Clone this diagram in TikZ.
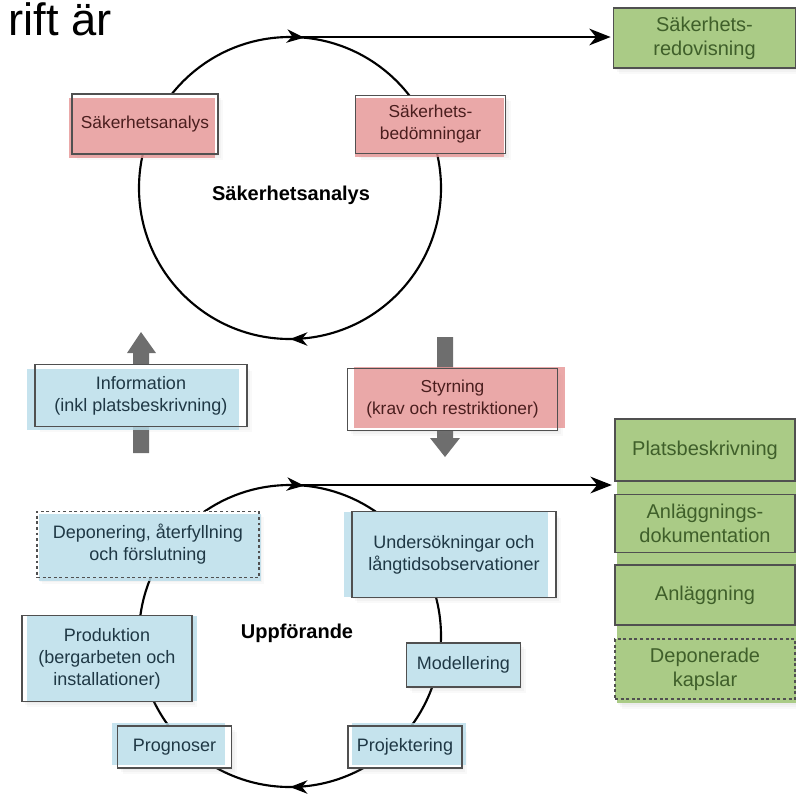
\documentclass[tikz,border=0pt]{standalone}
\usepackage{fontspec}
\setmainfont{Liberation Sans}
\usetikzlibrary{arrows.meta,decorations.markings,shadows}

\definecolor{redfill}{HTML}{E69696}
\definecolor{bluefill}{HTML}{B9DDEA}
\definecolor{greenfill}{HTML}{AACB86}
\definecolor{boxline}{HTML}{505050}
\definecolor{redtext}{HTML}{4A1E1E}
\definecolor{bluetext}{HTML}{1F3845}
\definecolor{greentext}{HTML}{3F5F2A}
\definecolor{blockgray}{HTML}{6E6E6E}

\tikzset{tint/.style n args={3}{preaction={fill=#1, fill opacity=0.82, transform canvas={shift={(#2,#3)}}}}}

\begin{document}
\begin{tikzpicture}[x=0.75pt,y=-0.75pt]
    \tikzstyle{softshadow}=[drop shadow={shadow xshift=1pt, shadow yshift=-1.5pt, opacity=0.06},
        drop shadow={shadow xshift=2.5pt, shadow yshift=-3pt, opacity=0.06},
        drop shadow={shadow xshift=4pt, shadow yshift=-4.5pt, opacity=0.05}]
    \tikzstyle{box}=[rectangle, align=center, inner sep=2pt, softshadow, preaction={fill=white}]
    \tikzstyle{outline}=[draw=boxline, line width=0.8pt]
    \tikzstyle{redbox}=[box, outline, text=redtext, font=\fontsize{13}{16.5}\selectfont]
    \tikzstyle{bluebox}=[box, outline, text=bluetext, font=\fontsize{13.5}{16.5}\selectfont]
    \tikzstyle{greenbox}=[rectangle, align=center, outline, fill=greenfill, text=greentext,
        font=\fontsize{15}{18}\selectfont, minimum width=135pt]
    \tikzstyle{dashedbox}=[dash pattern=on 2.2pt off 2pt]
    \tikzstyle{ring}=[line width=1.6pt, decoration={markings,
        mark=at position 0.25 with {\arrow{Stealth[length=13pt,width=10pt,inset=4pt]}},
        mark=at position 0.765 with {\arrow{Stealth[length=13pt,width=10pt,inset=4pt]}}}, postaction={decorate}]
    \tikzstyle{flow}=[line width=1.6pt, -{Stealth[length=16pt,width=12.5pt,inset=5pt]}, shorten >=2pt]
    \tikzstyle{blockarrow}=[fill=blockgray]
    \useasboundingbox (0,0) rectangle (796,794);

    \node[anchor=base west, font=\fontsize{34}{40}\selectfont] (frag) at (4,35) {rift är};

    % upper cycle
    \coordinate (ring1) at (290,188);
    \draw[ring] (ring1) circle[radius=151];
    \node[font=\bfseries\fontsize{15}{18}\selectfont] (lbl1) at (291,195) {Säkerhetsanalys};
    \node[redbox, tint={redfill}{-3}{4}, minimum width=109.5pt, minimum height=45pt] (sa) at (145,124) {Säkerhetsanalys};
    \node[redbox, tint={redfill}{-1}{3}, minimum width=112pt, minimum height=44pt] (sb) at (430.5,124.5) {Säkerhets-\\bedömningar};
    \node[greenbox, softshadow, minimum width=136pt, minimum height=45pt] (redov) at (704.5,38) {Säkerhets-\\redovisning};
    \coordinate (out1) at (300,37);
    \draw[flow] (out1) -- (out1 -| redov.west);

    % between the cycles
    \fill[blockarrow] (133,453) -- (133,353) -- (127,353) -- (141,332) -- (156,353) -- (149,353) -- (149,453) -- cycle;
    \fill[blockarrow] (437,337) -- (437,438) -- (430,438) -- (445,457) -- (460,438) -- (453,438) -- (453,337) -- cycle;
    \node[bluebox, tint={bluefill}{-8}{4}, minimum width=159pt, minimum height=46pt] (info) at (141,395.5) {Information\\(inkl platsbeskrivning)};
    \node[redbox, tint={redfill}{7}{-2}, minimum width=158pt, minimum height=46pt] (styr) at (452.5,399.5) {Styrning\\(krav och restriktioner)};

    % lower cycle
    \coordinate (ring2) at (290,636);
    \draw[ring] (ring2) circle[radius=151];
    \node[font=\bfseries\fontsize{15}{18}\selectfont] (lbl2) at (297,633) {Uppförande};
    \node[bluebox, dashedbox, tint={bluefill}{2}{3}, minimum width=166.5pt, minimum height=50pt] (depon) at (148,544.5) {Deponering, återfyllning\\och förslutning};
    \node[bluebox, tint={bluefill}{5}{0}, minimum width=127.5pt, minimum height=64pt] (prod) at (107,658.5) {Produktion\\(bergarbeten och\\installationer)};
    \node[bluebox, tint={bluefill}{-6}{-3}, minimum width=85pt, minimum height=31.5pt] (progn) at (174.5,747) {Prognoser};
    \node[bluebox, tint={bluefill}{-8}{0}, minimum width=153pt, minimum height=64pt] (unders) at (454,554.5) {Undersökningar och\\långtidsobservationer};
    \node[bluebox, tint={bluefill}{0}{0}, minimum width=85pt, minimum height=33pt] (modell) at (463.5,665) {Modellering};
    \node[bluebox, tint={bluefill}{4}{-3}, minimum width=85.5pt, minimum height=31.5pt] (proj) at (405,747) {Projektering};

    % results column
    \fill[greenfill, softshadow] (617,419) rectangle (796,703);
    \node[greenbox, minimum height=46.5pt] (plats) at (705,450) {Platsbeskrivning};
    \node[greenbox, minimum height=44pt] (anldok) at (705,523.5) {Anläggnings-\\dokumentation};
    \node[greenbox, minimum height=45pt] (anl) at (705,595) {Anläggning};
    \node[greenbox, dashedbox, minimum height=45pt] (depkap) at (705,669) {Deponerade\\kapslar};
    \coordinate (out2) at (300,485);
    \draw[flow] (out2) -- (out2 -| plats.west);
\end{tikzpicture}
\end{document}
